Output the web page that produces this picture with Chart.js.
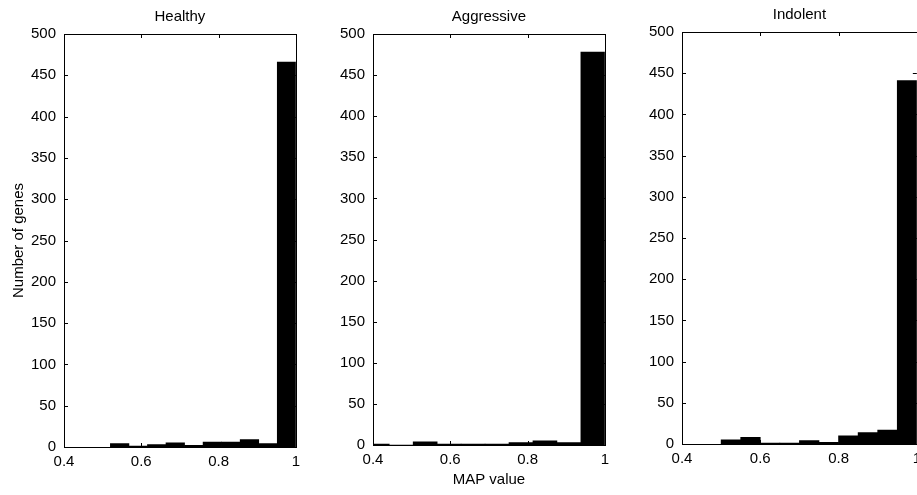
<!doctype html>
<html lang="en">
<head>
<meta charset="UTF-8" />
<title>MAP value histograms</title>
<script src="https://cdn.jsdelivr.net/npm/chart.js"></script>
<style>
  html, body { margin: 0; padding: 0; background: #fff; }
  body { width: 917px; height: 495px; position: relative; overflow: hidden; }
  canvas { position: absolute; }
</style>
</head>
<body>
  <canvas id="healthyChart" width="306" height="495" style="left:0;top:0"></canvas>
  <canvas id="aggressiveChart" width="292" height="495" style="left:323px;top:0"></canvas>
  <canvas id="indolentChart" width="295" height="495" style="left:632px;top:-2px"></canvas>

<script>
// bin centres and gene counts
const healthyCenters = [0.544, 0.592, 0.640, 0.688, 0.736, 0.784, 0.832, 0.880, 0.928, 0.976];
const healthyCounts = [4, 1, 3, 5, 2, 6, 6, 9, 4, 466];

const aggressiveCenters = [0.411, 0.473, 0.535, 0.597, 0.659, 0.721, 0.783, 0.845, 0.907, 0.969];
const aggressiveCounts = [1, 0, 4, 1, 1, 1, 3, 5, 3, 478];

const indolentCenters = [0.525, 0.575, 0.625, 0.675, 0.725, 0.775, 0.825, 0.875, 0.925, 0.975];
const indolentCounts = [5, 8, 1, 1, 4, 2, 10, 14, 17, 441];

const xMin = 0.4, xMax = 1, xStep = 0.2;
const yMin = 0, yMax = 500, yStep = 50;

const FONT = { family: "'Liberation Sans', Arial, sans-serif", size: 15 };

// box round the axes plus short inward ticks, like the old plotting style
const boxAxes = {
    id: "boxAxes",
    afterDatasetsDraw(chart) {
        const { ctx, chartArea: a, scales: { x, y } } = chart;
        const len = 4;
        ctx.save();
        ctx.strokeStyle = "#000";
        ctx.lineWidth = 1;
        ctx.beginPath();
        x.ticks.forEach(t => {
            const px = Math.round(x.getPixelForValue(t.value)) + 0.5;
            ctx.moveTo(px, a.bottom); ctx.lineTo(px, a.bottom - len);
            ctx.moveTo(px, a.top); ctx.lineTo(px, a.top + len);
        });
        y.ticks.forEach(t => {
            const py = Math.round(y.getPixelForValue(t.value)) + 0.5;
            ctx.moveTo(a.left, py); ctx.lineTo(a.left + len, py);
            ctx.moveTo(a.right, py); ctx.lineTo(a.right - len, py);
        });
        ctx.stroke();
        ctx.strokeRect(Math.round(a.left) + 0.5, Math.round(a.top) + 0.5,
            Math.round(a.width), Math.round(a.height));
        ctx.restore();
    }
};

function makeHistogram(canvasId, title, centers, counts, opts) {
    const ctx = document.getElementById(canvasId).getContext("2d");
    return new Chart(ctx, {
        type: "bar",
        data: {
            datasets: [{
                data: centers.map((c, i) => ({ x: c, y: counts[i] })),
                backgroundColor: "#000",
                borderWidth: 0,
                barPercentage: 1,
                categoryPercentage: 1,
            }],
        },
        options: {
            responsive: false,
            animation: false,
            layout: { padding: { left: 0, right: 10, top: 0, bottom: opts.padBottom } },
            plugins: {
                legend: { display: false },
                tooltip: { enabled: false },
                title: {
                    display: true,
                    text: title,
                    color: "#000",
                    fullSize: false,
                    font: { ...FONT, weight: "normal" },
                    padding: { top: 8, bottom: 8 },
                },
            },
            scales: {
                x: {
                    type: "linear",
                    min: xMin,
                    max: xMax,
                    offset: false,
                    grid: { display: false, drawTicks: false },
                    border: { display: false },
                    ticks: {
                        stepSize: xStep,
                        padding: 6,
                        color: "#000",
                        font: FONT,
                        maxRotation: 0,
                        autoSkip: false,
                        callback: v => String(+v.toFixed(2)),
                    },
                    title: {
                        display: !!opts.xTitle,
                        text: opts.xTitle,
                        color: "#000",
                        font: FONT,
                        padding: { top: 0, bottom: 4 },
                    },
                    afterFit: s => { s.height = 48; },
                },
                y: {
                    min: yMin,
                    max: yMax,
                    grid: { display: false, drawTicks: false },
                    border: { display: false },
                    ticks: { stepSize: yStep, padding: 8, color: "#000", font: FONT },
                    title: {
                        display: !!opts.yTitle,
                        text: opts.yTitle,
                        color: "#000",
                        font: FONT,
                        padding: { top: 10, bottom: 0 },
                    },
                    afterFit: s => { s.width = opts.yWidth; },
                },
            },
        },
        plugins: [boxAxes],
    });
}

makeHistogram("healthyChart", "Healthy", healthyCenters, healthyCounts,
    { yWidth: 64, padBottom: 0, yTitle: "Number of genes", xTitle: "" });
makeHistogram("aggressiveChart", "Aggressive", aggressiveCenters, aggressiveCounts,
    { yWidth: 50, padBottom: 2, yTitle: "", xTitle: "MAP value" });
makeHistogram("indolentChart", "Indolent", indolentCenters, indolentCounts,
    { yWidth: 50, padBottom: 1, yTitle: "", xTitle: "" });
</script>
</body>
</html>
